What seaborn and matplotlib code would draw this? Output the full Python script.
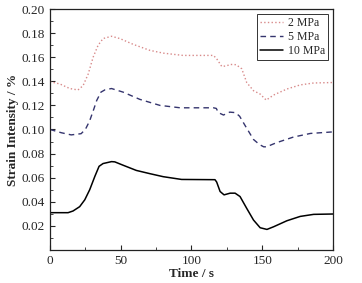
import numpy as np
import matplotlib
matplotlib.use('Agg')
import matplotlib.pyplot as plt
import pandas as pd
import seaborn as sns
from matplotlib.ticker import MultipleLocator

# values
t_2mpa = [0, 7, 14, 19.8, 23.4, 27, 30.5, 34, 37.5, 43.5, 49.4, 58.8, 70.6, 80, 94, 115.5, 117.8, 121.4, 124.5, 127.5, 131.5, 135.5, 139, 143.8, 148.5, 152.8, 158, 167.4, 176.8, 186.3, 200]
s_2mpa = [0.1397, 0.1378, 0.134, 0.1328, 0.1364, 0.146, 0.160, 0.1699, 0.1755, 0.1774, 0.1755, 0.1707, 0.1657, 0.1634, 0.1615, 0.1615, 0.1587, 0.1523, 0.1528, 0.1540, 0.1538, 0.1504, 0.139, 0.1322, 0.1294, 0.1244, 0.1286, 0.1336, 0.137, 0.1386, 0.139]

t_5mpa = [0, 8, 15, 22, 25, 28, 31, 33, 36, 39, 43.5, 51.7, 63.5, 77.7, 92, 115.5, 117.5, 119, 122.6, 127, 131, 134, 138, 143.8, 148, 151, 153, 160, 172, 184, 200]
s_5mpa = [0.100, 0.0973, 0.0955, 0.0965, 0.100, 0.107, 0.117, 0.124, 0.131, 0.133, 0.134, 0.131, 0.125, 0.120, 0.118, 0.118, 0.1175, 0.114, 0.112, 0.1144, 0.114, 0.111, 0.103, 0.0917, 0.0875, 0.0856, 0.0856, 0.089, 0.0937, 0.0967, 0.098]

t_10mpa = [0, 12.8, 16.3, 21, 24.6, 28.1, 31.7, 34.7, 37.5, 43.5, 45.8, 51.7, 61, 70.6, 80, 93, 116.6, 117.8, 120.2, 123, 127.3, 130.8, 134.3, 139, 143.8, 148.5, 153.3, 158, 167.4, 176.8, 186.3, 200]
s_10mpa = [0.0309, 0.0309, 0.0323, 0.0359, 0.0416, 0.050, 0.061, 0.0694, 0.0717, 0.0733, 0.0731, 0.0703, 0.066, 0.0633, 0.0608, 0.0585, 0.0583, 0.0563, 0.0485, 0.0457, 0.0471, 0.0471, 0.0443, 0.0345, 0.0248, 0.0184, 0.017, 0.0192, 0.0242, 0.0278, 0.0295, 0.0298]

df2 = pd.DataFrame({'t': t_2mpa, 's': s_2mpa})
df5 = pd.DataFrame({'t': t_5mpa, 's': s_5mpa})
df10 = pd.DataFrame({'t': t_10mpa, 's': s_10mpa})

sns.set_style('ticks')
plt.rcParams['font.family'] = ['Liberation Serif', 'DejaVu Serif']

fig = plt.figure(figsize=(3.62, 2.83), dpi=100)
ax = fig.add_axes([0.138, 0.117, 0.782, 0.851])

sns.lineplot(data=df2, x='t', y='s', ax=ax, color='#d88a8a', linestyle=':', linewidth=1.0, label='2 MPa')
sns.lineplot(data=df5, x='t', y='s', ax=ax, color='#35356e', linestyle=(0, (4, 3)), linewidth=1.0, label='5 MPa')
sns.lineplot(data=df10, x='t', y='s', ax=ax, color='black', linestyle='-', linewidth=1.1, label='10 MPa')

ax.set_xlim(0, 200)
ax.set_ylim(0, 0.20)
ax.set_xticks([0, 50, 100, 150, 200])
ax.set_yticks([0.02, 0.04, 0.06, 0.08, 0.10, 0.12, 0.14, 0.16, 0.18, 0.20])
ax.set_yticklabels(['0.02', '0.04', '0.06', '0.08', '0.10', '0.12', '0.14', '0.16', '0.18', '0.20'])
ax.xaxis.set_minor_locator(MultipleLocator(25))
ax.yaxis.set_minor_locator(MultipleLocator(0.01))
ax.tick_params(which='both', direction='in', top=False, right=False, labelsize=9.5)
ax.tick_params(which='major', length=3.5, width=0.8)
ax.tick_params(which='minor', length=2, width=0.6)
for sp in ax.spines.values():
    sp.set_visible(True)
    sp.set_linewidth(0.9)
    sp.set_color('#222222')

ax.set_xlabel('Time / s', fontsize=9.5, fontweight='bold', labelpad=1)
ax.set_ylabel('Strain Intensity / %', fontsize=9.5, fontweight='bold', labelpad=2)

leg = ax.legend(loc='upper right', fontsize=8.5, frameon=True, fancybox=False,
                edgecolor='#333333', framealpha=1, borderpad=0.3, labelspacing=0.15,
                handlelength=1.9, handletextpad=0.4, borderaxespad=0.4)
leg.get_frame().set_linewidth(0.7)

plt.savefig('out.png', dpi=100)
